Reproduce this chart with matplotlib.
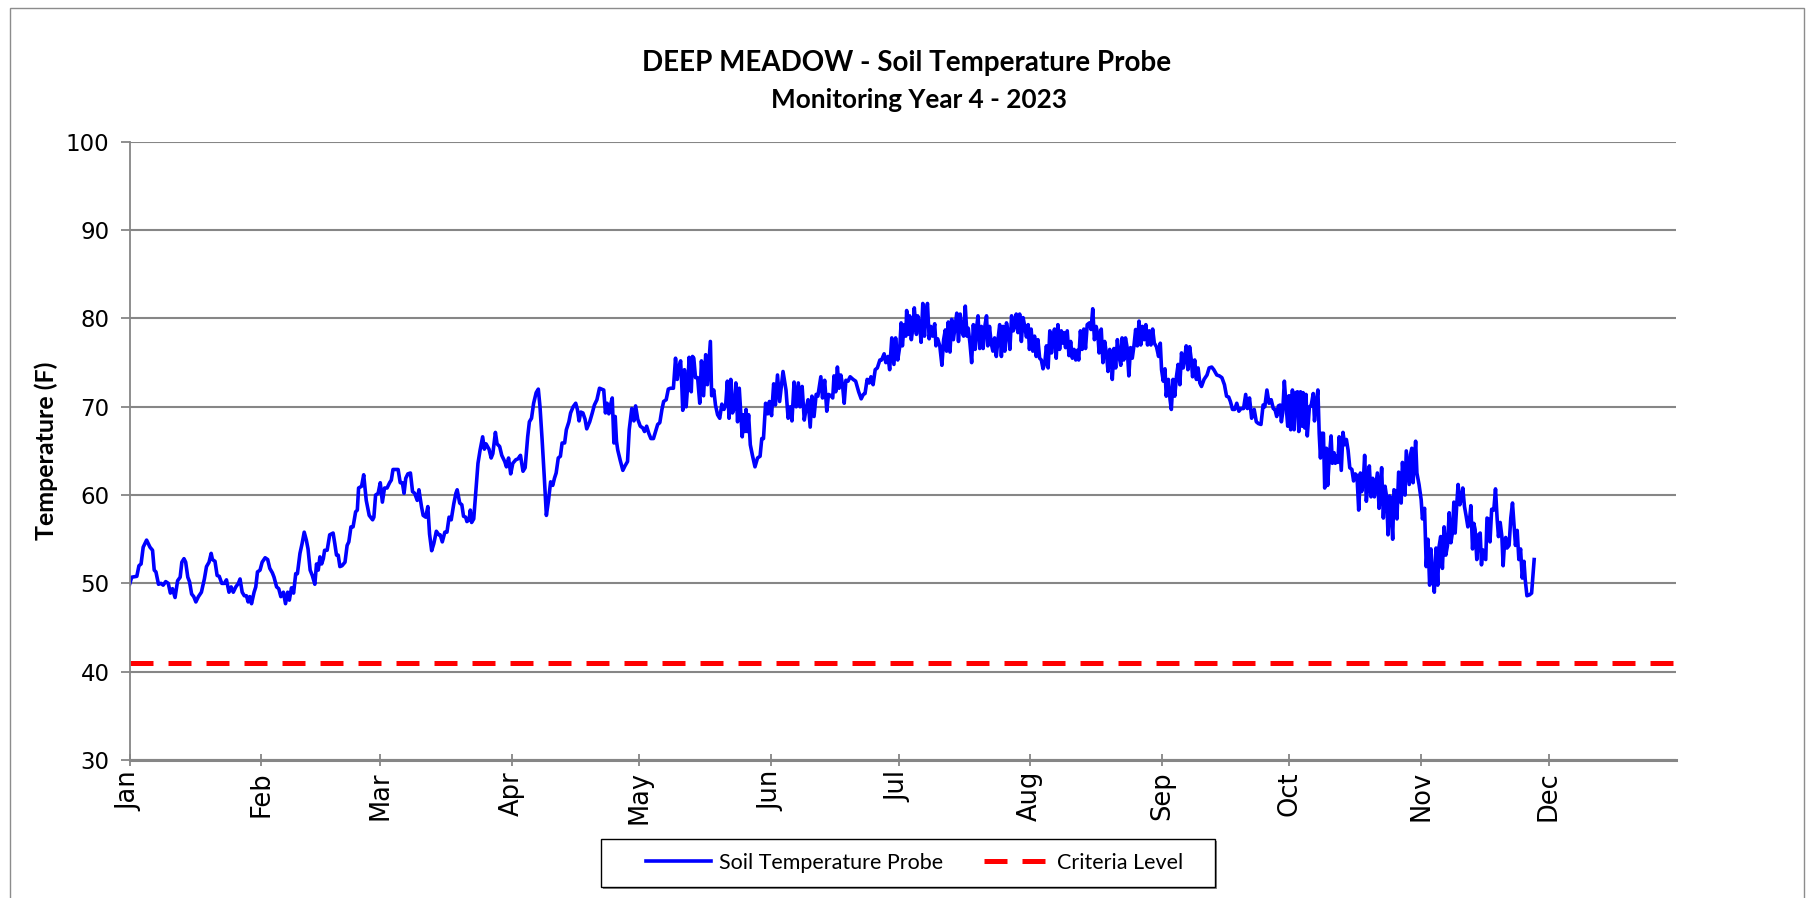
import numpy as np
import pandas as pd
import matplotlib
matplotlib.use("Agg")
import matplotlib.pyplot as plt
import matplotlib.dates as mdates
from matplotlib.patches import Rectangle

# probe readings, day offset from Jan 1 2023 and temperature (F)
days_jan_feb = [0, 0.5, 1.7, 2.2, 2.7, 3.2, 4.0, 4.8, 5.4, 5.8,
                6.2, 6.8, 7.4, 7.9, 8.5, 9.1, 9.6, 10.1, 10.7, 11.3,
                11.9, 12.3, 12.8, 13.2, 13.7, 14.1, 14.6, 15.1, 15.6, 16.2,
                16.9, 17.6, 18.1, 18.7, 19.2, 19.5, 20.1, 20.6, 21.1, 21.7,
                22.3, 22.8, 23.4, 23.9, 24.4, 25.0, 25.6, 26.0, 26.5, 27.0,
                27.5, 27.9, 28.3, 28.7, 29.3, 29.7, 30.1, 30.7, 31.2, 31.9,
                32.5, 33.0, 33.6, 34.0, 34.6, 35.1, 35.6, 36.2, 36.7, 37.2,
                37.6, 38.1, 38.6, 39.1, 39.5, 40.1, 40.6, 41.1, 41.6, 42.0,
                42.5, 43.0, 43.6, 44.0, 44.4, 44.8, 45.2, 45.6, 45.9, 46.5,
                47.1, 47.9, 48.3, 48.7, 49.1, 49.5, 50.0, 50.7, 51.2, 51.6,
                52.1, 52.6, 53.2, 53.6, 53.9, 54.6]
temp_jan_feb = [49.9, 50.7, 50.8, 52.0, 52.2, 54.1, 54.9, 54.1, 53.75, 51.5,
                51.3, 49.9, 50.0, 49.8, 50.2, 50.0, 48.9, 49.4, 48.4, 50.3,
                50.7, 52.4, 52.8, 52.4, 50.7, 50.2, 48.8, 48.5, 47.9, 48.5,
                49.0, 50.5, 51.9, 52.4, 53.4, 52.7, 52.5, 50.9, 50.8, 50.0,
                50.0, 50.4, 49.0, 49.6, 49.0, 49.6, 50.0, 50.5, 49.0, 48.6,
                48.6, 47.9, 48.5, 47.7, 49.0, 49.6, 51.3, 51.5, 52.4, 52.9,
                52.7, 51.7, 51.2, 50.7, 49.6, 49.4, 48.5, 49.0, 47.7, 49.0,
                48.1, 49.5, 48.9, 51.1, 51.1, 53.4, 54.5, 55.8, 54.9, 53.9,
                51.5, 50.9, 49.9, 52.2, 51.5, 53.0, 52.2, 52.8, 53.75, 53.75,
                55.5, 55.7, 54.5, 53.2, 53.2, 51.9, 52.0, 52.4, 54.3, 54.7,
                56.4, 56.4, 58.1, 58.3, 60.8, 61.0]

days_mar_apr = [55.1, 55.7, 56.4, 57.2, 57.5, 57.9, 58.5, 59.0, 59.5, 60.0,
                60.6, 61.2, 61.6, 62.0, 63.2, 63.7, 64.2, 64.6, 65.0, 65.5,
                66.1, 66.6, 67.1, 67.7, 68.1, 68.7, 69.1, 69.7, 70.2, 70.6,
                71.1, 71.6, 72.2, 72.8, 73.1, 73.6, 74.2, 74.7, 75.2, 75.7,
                76.3, 76.8, 77.1, 77.7, 78.2, 78.6, 79.1, 79.4, 79.9, 80.2,
                80.5, 81.0, 81.4, 82.0, 82.5, 83.1, 83.5, 83.9, 84.6, 85.1,
                85.5, 86.1, 86.5, 87.1, 87.6, 88.3, 88.7, 89.2, 89.7, 90.2,
                90.9, 91.4, 92.0, 92.6, 93.1, 93.7, 94.1, 94.6, 95.1, 95.7,
                96.2, 96.6, 97.1, 97.6, 98.1, 98.6, 99.1, 99.6, 100.0, 100.4,
                100.9, 101.4, 101.8, 102.4, 102.8, 103.4, 103.8, 104.4, 105.0, 105.4,
                105.8, 106.2, 106.7, 107.2, 107.6, 108.3, 108.9, 109.4]
temp_mar_apr = [62.3, 59.4, 57.7, 57.2, 57.5, 60.0, 60.2, 61.4, 59.2, 60.8,
                60.8, 61.4, 61.7, 62.9, 62.9, 61.4, 61.4, 60.2, 61.9, 62.4,
                62.5, 60.4, 60.2, 59.4, 60.6, 58.7, 57.7, 57.5, 58.7, 55.6,
                53.7, 54.5, 55.9, 55.5, 55.5, 54.7, 55.8, 55.8, 57.5, 57.2,
                59.0, 60.2, 60.6, 59.1, 58.9, 57.6, 57.5, 57.0, 57.2, 58.3,
                56.9, 57.3, 59.8, 63.6, 65.1, 66.6, 65.2, 65.8, 65.2, 64.2,
                64.7, 67.1, 65.8, 65.5, 64.5, 63.8, 63.2, 64.2, 62.4, 63.6,
                64.0, 64.1, 64.5, 62.7, 63.1, 66.6, 68.3, 68.7, 70.4, 71.6,
                72.0, 70.0, 66.25, 62.1, 57.7, 59.4, 61.5, 61.1, 61.9, 62.5,
                64.2, 64.4, 65.9, 65.9, 67.4, 68.3, 69.3, 70.0, 70.4, 69.7,
                68.4, 69.4, 69.3, 68.6, 67.5, 68.3, 69.3, 70.2]

days_may_jun = [110.0, 110.6, 111.1, 111.6, 112.0, 112.4, 112.8, 113.2, 113.6, 114.0,
                114.3, 114.6, 114.9, 115.5, 116.1, 116.6, 117.2, 117.6, 118.2, 118.7,
                119.1, 119.6, 120.2, 120.8, 121.2, 121.7, 122.2, 122.7, 123.3, 123.8,
                124.3, 124.8, 125.3, 125.7, 126.3, 126.8, 127.3, 128.0, 128.5, 128.9,
                129.2, 129.7, 130.0, 130.2, 130.6, 131.0, 131.4, 131.7, 132.2, 132.5,
                132.8, 133.2, 133.7, 134.2, 134.6, 135.1, 135.6, 136.0, 136.7, 137.0,
                137.5, 137.9, 138.4, 138.9, 139.4, 139.9, 140.3, 140.7, 141.1, 141.5,
                141.9, 142.3, 142.7, 143.1, 143.5, 143.9, 144.2, 144.5, 144.8, 145.1,
                145.4, 145.7, 146.1, 146.6, 147.2, 147.8, 148.4, 148.8, 149.2, 149.7,
                150.2, 150.6, 151.1, 151.6, 152.0, 152.5, 153.0, 153.5, 153.8, 154.5,
                155.0, 155.5, 155.9, 156.4, 156.9, 157.4, 157.8, 158.3, 158.8, 159.2,
                159.7, 160.2, 160.6, 161.1, 161.6, 162.0, 162.7, 163.1, 163.6, 164.1,
                164.5]
temp_may_jun = [70.8, 72.1, 72.0, 71.9, 69.3, 70.4, 69.2, 70.2, 71.0, 65.9,
                68.9, 66.1, 65.1, 63.9, 62.8, 63.3, 63.8, 67.4, 69.8, 68.4,
                70.1, 68.6, 67.8, 67.6, 67.2, 67.8, 67.0, 66.4, 66.4, 67.2,
                68.0, 68.2, 69.7, 70.6, 70.8, 72.0, 72.1, 72.1, 75.5, 73.1,
                74.4, 75.2, 72.1, 69.6, 74.2, 70.0, 72.7, 75.6, 71.7, 75.7,
                75.5, 73.3, 73.3, 70.4, 75.2, 71.25, 75.9, 72.5, 77.4, 71.25,
                71.9, 70.2, 69.1, 68.7, 70.3, 69.7, 70.2, 72.9, 68.7, 73.1,
                69.3, 69.8, 72.7, 68.3, 72.1, 68.9, 66.6, 69.1, 67.2, 69.7,
                67.2, 69.1, 65.7, 64.5, 63.2, 64.2, 64.4, 66.4, 66.4, 70.4,
                69.2, 70.6, 69.0, 72.6, 70.2, 73.6, 70.6, 72.7, 74.0, 71.9,
                68.7, 70.0, 68.4, 72.8, 70.0, 72.7, 70.0, 72.3, 68.5, 69.7,
                70.8, 67.7, 71.2, 68.9, 71.4, 71.2, 73.4, 71.0, 73.0, 69.5,
                71.4]

days_jul_aug = [165.1, 165.5, 165.8, 166.2, 166.6, 167.0, 167.4, 167.8, 168.2, 168.6,
                169.1, 169.6, 170.3, 170.9, 171.6, 172.2, 172.7, 173.1, 173.6, 174.1,
                174.5, 175.0, 175.5, 176.0, 176.6, 177.0, 177.6, 178.0, 178.5, 178.9,
                179.4, 179.9, 180.3, 180.8, 181.3, 181.6, 181.9, 182.3, 182.7, 182.9,
                183.3, 183.6, 184.0, 184.4, 184.7, 185.2, 185.5, 186.0, 186.3, 186.7,
                187.1, 187.4, 187.8, 188.2, 188.6, 189.0, 189.5, 189.8, 190.2, 190.7,
                191.2, 191.6, 192.0, 192.3, 192.7, 193.1, 193.5, 193.9, 194.3, 194.7,
                195.1, 195.5, 195.9, 196.3, 196.7, 197.1, 197.4, 197.8, 198.2, 198.6,
                199.0, 199.4, 199.7, 200.1, 200.5, 200.9, 201.3, 201.7, 202.0, 202.4,
                202.8, 203.2, 203.6, 204.0, 204.4, 204.8, 205.2, 205.6, 206.0, 206.4,
                206.8, 207.2, 207.6, 208.0, 208.3, 208.7, 209.1, 209.5, 209.9, 210.3,
                210.7, 211.1, 211.5, 211.8, 212.2, 212.6, 213.0, 213.4, 213.8, 214.2,
                214.6, 215.0, 215.4, 215.8, 216.2, 216.6, 217.0, 217.4, 217.7, 218.1,
                218.5, 218.9, 219.3, 219.7]
temp_jul_aug = [71.25, 71.0, 73.5, 71.7, 74.5, 72.1, 73.6, 72.5, 70.4, 73.0,
                72.9, 73.4, 73.1, 72.9, 71.7, 70.9, 71.4, 71.5, 73.1, 72.7,
                73.4, 72.5, 74.2, 74.4, 75.3, 75.3, 76.0, 75.0, 75.7, 74.2,
                77.8, 74.8, 77.8, 75.3, 76.9, 79.5, 76.9, 79.3, 78.0, 80.9,
                78.2, 80.3, 77.6, 79.1, 81.2, 78.2, 80.3, 79.1, 77.3, 81.7,
                78.0, 80.5, 81.7, 77.7, 79.1, 78.0, 79.4, 76.9, 77.7, 76.9,
                74.7, 77.6, 78.7, 76.3, 79.6, 76.2, 79.9, 77.6, 79.1, 80.6,
                77.4, 80.5, 78.6, 78.0, 81.4, 78.0, 78.9, 77.2, 75.0, 79.3,
                76.5, 79.1, 80.3, 76.6, 79.1, 76.6, 79.1, 80.3, 76.9, 79.1,
                77.2, 76.3, 77.8, 75.7, 77.6, 79.3, 75.7, 79.1, 76.3, 79.5,
                78.4, 76.5, 80.3, 78.6, 79.1, 80.5, 78.4, 80.5, 77.4, 80.1,
                79.1, 77.9, 79.3, 76.5, 78.8, 76.3, 78.0, 75.7, 77.6, 75.5,
                75.3, 74.3, 74.9, 76.9, 74.4, 78.6, 76.1, 78.0, 78.8, 75.5,
                79.3, 76.5, 78.6, 77.2]

days_aug_oct = [219.9, 220.3, 220.7, 221.1, 221.5, 221.9, 222.3, 222.7, 223.1, 223.4,
                223.8, 224.2, 224.6, 225.0, 225.4, 225.9, 226.3, 226.7, 227.1, 227.5,
                227.9, 228.2, 228.7, 229.1, 229.5, 229.9, 230.3, 230.7, 231.1, 231.3,
                231.7, 232.1, 232.5, 232.9, 233.3, 233.6, 234.0, 234.4, 234.8, 235.2,
                235.6, 236.0, 236.4, 236.8, 237.2, 237.6, 238.0, 238.4, 238.8, 239.2,
                239.6, 240.0, 240.4, 240.8, 241.2, 241.7, 242.2, 242.6, 242.9, 243.3,
                243.7, 244.0, 244.5, 244.9, 245.2, 245.6, 246.0, 246.4, 246.8, 247.2,
                247.6, 248.0, 248.4, 248.7, 249.1, 249.5, 249.9, 250.2, 250.7, 251.1,
                251.5, 251.9, 252.3, 252.9, 253.6, 254.1, 254.7, 255.2, 255.9, 256.5,
                257.1, 257.7, 258.2, 258.7, 259.1, 259.6, 260.1, 260.6, 261.1, 261.6,
                262.2, 262.7, 263.1, 263.6, 264.1, 264.7, 265.2, 265.7, 266.3, 266.8,
                267.2, 267.7, 268.2, 268.7, 269.2, 269.6, 270.0, 270.4, 270.8, 271.1,
                271.4, 271.8, 272.2, 272.6, 272.9, 273.3, 273.7, 274.1, 274.5, 274.9,
                275.2, 275.6, 276.0]
temp_aug_oct = [78.4, 76.7, 78.6, 75.8, 77.4, 75.5, 76.5, 75.3, 76.4, 75.3,
                78.6, 76.5, 78.8, 76.6, 79.3, 79.5, 78.75, 81.1, 77.6, 79.1,
                78.2, 76.1, 78.8, 75.0, 77.4, 76.1, 74.0, 76.5, 75.7, 73.1,
                76.6, 74.4, 77.6, 75.7, 74.7, 77.8, 75.3, 77.8, 76.7, 73.5,
                76.7, 75.5, 76.9, 78.75, 76.9, 79.7, 77.0, 79.1, 77.6, 79.3,
                77.0, 78.6, 77.0, 78.8, 77.2, 76.8, 75.7, 77.2, 74.2, 72.9,
                74.3, 71.2, 73.1, 70.8, 69.7, 73.1, 71.2, 73.4, 74.8, 72.5,
                76.1, 74.4, 75.7, 76.9, 74.2, 76.8, 75.3, 73.4, 75.3, 73.1,
                74.4, 72.7, 72.3, 73.1, 73.6, 74.4, 74.5, 74.2, 73.6, 73.5,
                73.3, 72.5, 71.2, 71.1, 70.6, 69.7, 69.7, 70.4, 69.5, 69.8,
                69.8, 71.4, 69.8, 71.0, 68.7, 69.7, 68.3, 68.1, 68.0, 70.2,
                70.0, 71.9, 70.4, 70.8, 69.8, 69.7, 68.9, 70.1, 70.2, 68.3,
                69.3, 72.9, 70.2, 67.8, 71.25, 67.4, 71.9, 67.4, 71.6, 71.7,
                67.2, 71.7, 67.8]

days_oct_nov = [276.2, 276.6, 276.9, 277.2, 277.7, 278.1, 278.6, 278.9, 279.2, 279.7,
                280.0, 280.3, 280.6, 281.0, 281.3, 281.7, 282.0, 282.4, 282.8, 283.1,
                283.5, 283.8, 284.1, 284.4, 284.7, 285.2, 285.6, 286.0, 286.4, 286.8,
                287.2, 287.7, 288.1, 288.5, 288.9, 289.3, 289.7, 290.0, 290.4, 290.7,
                291.1, 291.5, 291.8, 292.2, 292.6, 293.0, 293.4, 293.7, 294.1, 294.4,
                294.7, 295.1, 295.5, 295.9, 296.2, 296.6, 296.9, 297.3, 297.6, 298.0,
                298.3, 298.7, 299.1, 299.3, 299.6, 299.9, 300.2, 300.5, 300.9, 301.2,
                301.5, 301.8, 302.1, 302.4, 302.7, 303.0, 303.5, 304.0, 304.3, 304.8,
                305.2, 305.6, 306.0, 306.3, 306.7, 307.1, 307.5, 307.9, 308.2, 308.6,
                309.0, 309.4, 309.8, 310.2, 310.6, 311.0, 311.4, 311.7, 312.0, 312.4,
                312.7, 313.1, 313.5, 313.8, 314.2, 314.6, 315.0, 315.4, 315.7, 316.1,
                316.4, 316.7, 317.1, 317.5, 317.9, 318.2, 318.5, 318.8, 319.2, 319.5,
                319.8, 320.2, 320.6, 321.1, 321.5, 321.9, 322.2, 322.6, 323.0, 323.3,
                323.6, 323.9, 324.2, 324.7, 325.1, 325.5, 325.9, 326.2, 326.6, 327.0,
                327.4, 327.8, 328.2, 328.5, 328.9, 329.5, 330.0, 330.6]
temp_oct_nov = [71.6, 67.6, 71.4, 66.7, 70.0, 70.1, 71.5, 68.4, 70.1, 71.9,
                67.0, 64.2, 67.0, 67.0, 60.8, 65.3, 61.1, 64.4, 66.7, 63.6,
                64.8, 63.6, 64.4, 63.7, 66.6, 62.8, 67.1, 65.7, 66.3, 65.1,
                63.1, 62.9, 61.6, 62.4, 62.2, 58.3, 62.5, 60.4, 61.6, 64.5,
                59.3, 61.4, 63.3, 59.8, 61.9, 59.8, 61.4, 62.5, 58.5, 60.6,
                63.1, 57.4, 61.0, 59.7, 55.5, 59.9, 58.5, 55.0, 60.6, 60.4,
                57.3, 62.6, 62.2, 59.1, 63.7, 61.7, 60.0, 65.0, 62.9, 61.2,
                64.6, 65.3, 61.4, 63.7, 66.1, 62.5, 61.2, 59.5, 57.3, 58.5,
                51.9, 55.0, 49.8, 53.9, 51.0, 49.0, 54.0, 49.8, 54.1, 55.3,
                51.7, 56.4, 53.2, 54.3, 58.0, 54.6, 55.9, 59.2, 55.7, 59.1,
                61.2, 58.9, 59.7, 60.8, 58.7, 57.6, 56.4, 57.2, 58.8, 53.9,
                56.8, 56.1, 52.7, 55.5, 55.7, 52.1, 53.8, 52.9, 52.7, 57.4,
                57.3, 54.7, 58.4, 58.3, 60.7, 57.2, 55.3, 56.9, 55.3, 52.0,
                54.4, 55.2, 54.0, 54.3, 57.4, 59.1, 56.4, 54.3, 56.0, 52.7,
                53.9, 50.6, 52.5, 50.4, 48.6, 48.7, 48.9, 52.7]

criteria_level = 41
year_start = "2023-01-01"
year_end = "2023-12-31"

days = np.concatenate([days_jan_feb, days_mar_apr, days_may_jun,
                       days_jul_aug, days_aug_oct, days_oct_nov])
temps = np.concatenate([temp_jan_feb, temp_mar_apr, temp_may_jun,
                        temp_jul_aug, temp_aug_oct, temp_oct_nov])
dates = pd.Timestamp(year_start) + pd.to_timedelta(days, unit="D")

fig = plt.figure(figsize=(18.10, 8.98), dpi=100)
ax = fig.add_axes([0.0716, 0.1537, 0.8544, 0.6883])

grid_gray = "#868686"
ax.set_ylim(30, 100)
ax.set_yticks(np.arange(30, 101, 10))
ax.set_xlim(pd.Timestamp(year_start), pd.Timestamp(year_end))
ax.yaxis.grid(True, color=grid_gray, linewidth=1.5)
ax.set_axisbelow(True)

probe_line, = ax.plot(dates, temps, color="#0000FF", linewidth=2.6,
                      label="Soil Temperature Probe")
criteria_line = ax.axhline(criteria_level, color="#FF0000", linewidth=3.6, dashes=(4.6, 3.0),
                           dash_capstyle="butt", label="Criteria Level")

ax.xaxis.set_major_locator(mdates.MonthLocator())
ax.xaxis.set_major_formatter(mdates.DateFormatter("%b"))

for side in ["top", "right"]:
    ax.spines[side].set_visible(False)
ax.spines["left"].set_color(grid_gray)
ax.spines["left"].set_linewidth(1.3)
ax.spines["bottom"].set_color(grid_gray)
ax.spines["bottom"].set_linewidth(2.2)

ax.tick_params(axis="y", direction="out", length=6.5, width=1.3, color=grid_gray,
               labelsize=16.5, pad=8)
ax.tick_params(axis="x", direction="inout", length=8, width=1.3, color=grid_gray,
               labelsize=18.5, pad=4, labelrotation=90)

ax.set_ylabel("Temperature (F)", fontsize=18, fontweight="bold", family="Lato")
ax.yaxis.set_label_coords(-0.046, 0.5)

fig.text(0.501, 0.930, "DEEP MEADOW - Soil Temperature Probe", ha="center", va="center",
         fontsize=20, fontweight="bold", family="Lato")
fig.text(0.508, 0.889, "Monitoring Year 4 - 2023", ha="center", va="center",
         fontsize=18.8, fontweight="bold", family="Lato")

# legend box with a thin shadow on the lower right
fig.patches.append(Rectangle((0.3331, 0.0100), 0.3392, 0.0535, transform=fig.transFigure,
                             facecolor="#8c8c8c", edgecolor="none", zorder=0))
fig.patches.append(Rectangle((0.3320, 0.0122), 0.3392, 0.0535, transform=fig.transFigure,
                             facecolor="white", edgecolor="black", linewidth=1.0, zorder=0.5))

fig.legend(handles=[probe_line, criteria_line], loc="center", bbox_to_anchor=(0.5054, 0.039),
           ncol=2, frameon=False, handlelength=3.0, handletextpad=0.4,
           columnspacing=1.9, prop={"family": "Lato", "size": 15.5})

# chart area border
fig.patches.append(Rectangle((0.0055, -0.01), 0.9912, 1.0011, transform=fig.transFigure,
                             fill=False, edgecolor="#8c8c8c", linewidth=1.0))

fig.savefig("out.png", dpi=100)
